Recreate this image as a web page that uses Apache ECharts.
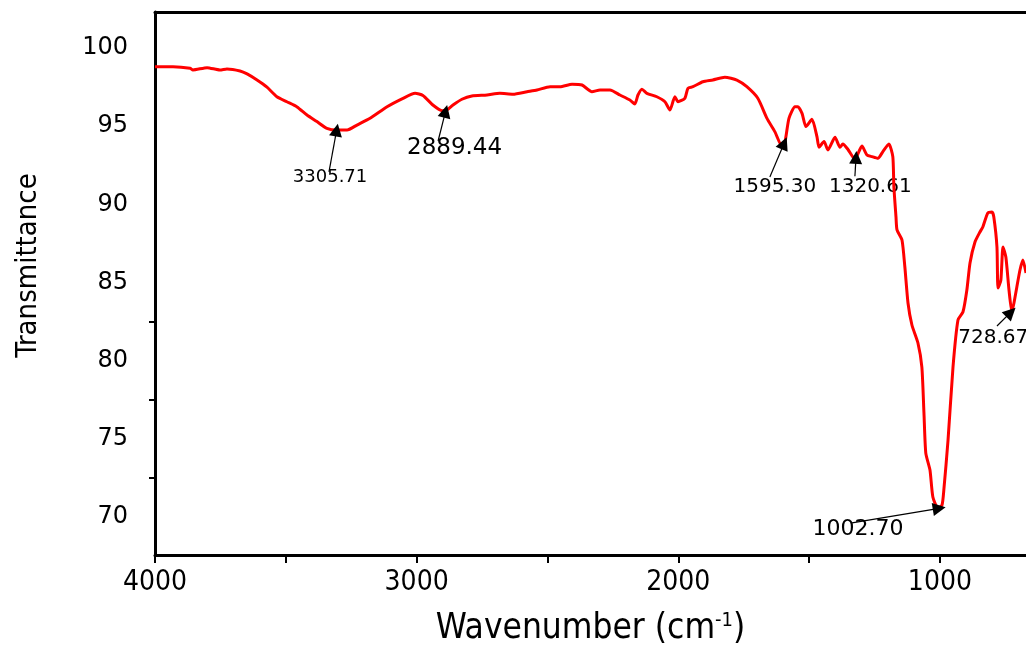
<!DOCTYPE html>
<html>
<head>
<meta charset="utf-8">
<script src="https://cdn.jsdelivr.net/npm/echarts@6/dist/echarts.min.js"></script>
<style>
html, body { margin: 0; padding: 0; background: #fff; }
#chart { width: 1026px; height: 647px; }
</style>
</head>
<body>
<div id="chart"></div>
<script>
// FTIR spectrum (cm-1, %T)
const wavenumber = [
    4000, 3931, 3866, 3855, 3801, 3752, 3725, 3675, 3648, 3610,
    3572, 3534, 3496, 3457, 3419, 3381, 3343, 3304, 3266, 3228,
    3178, 3113, 3052, 3006, 2976, 2938, 2903, 2884, 2861, 2827,
    2789, 2731, 2682, 2632, 2578, 2540, 2490, 2452, 2406, 2368,
    2330, 2299, 2261, 2223, 2185, 2166, 2154, 2139, 2120, 2082,
    2051, 2032, 2013, 2001, 1975, 1963, 1944, 1906, 1868, 1822,
    1776, 1738, 1696, 1661, 1631, 1604, 1592, 1577, 1554, 1543,
    1527, 1512, 1489, 1470, 1462, 1443, 1428, 1401, 1382, 1371,
    1352, 1325, 1298, 1279, 1260, 1237, 1218, 1195, 1180, 1176,
    1168, 1164, 1145, 1134, 1122, 1107, 1084, 1069, 1061, 1054,
    1038, 1027, 1008, 992, 985, 969, 950, 931, 912, 897,
    885, 866, 847, 836, 817, 801, 794, 782, 778, 767,
    759, 748, 736, 725, 717, 706, 694, 683, 671
];
const transmittance = [
    98.80, 98.80, 98.70, 98.59, 98.74, 98.59, 98.66, 98.53, 98.34, 97.95,
    97.49, 96.88, 96.56, 96.23, 95.71, 95.29, 94.86, 94.75, 94.75, 95.07,
    95.50, 96.24, 96.78, 97.10, 96.96, 96.35, 95.99, 96.03, 96.35, 96.72,
    96.93, 96.99, 97.10, 97.04, 97.20, 97.31, 97.52, 97.52, 97.68, 97.63,
    97.20, 97.31, 97.31, 96.99, 96.67, 96.42, 96.99, 97.36, 97.10, 96.88,
    96.56, 96.03, 96.88, 96.56, 96.78, 97.42, 97.52, 97.84, 97.95, 98.13,
    97.95, 97.52, 96.78, 95.50, 94.65, 93.73, 94.01, 95.50, 96.24, 96.24,
    95.82, 94.97, 95.44, 94.33, 93.65, 94.01, 93.48, 94.29, 93.65, 93.86,
    93.52, 92.88, 93.73, 93.16, 93.05, 92.94, 93.37, 93.86, 93.05, 91.13,
    89.21, 88.36, 87.72, 85.99, 83.69, 82.28, 81.13, 79.59, 76.65, 74.09,
    73.00, 71.28, 70.57, 70.77, 71.73, 74.92, 79.59, 82.60, 83.11, 84.52,
    86.25, 87.59, 88.23, 88.55, 89.45, 89.51, 89.19, 87.27, 84.65, 85.16,
    87.27, 86.63, 84.52, 83.11, 83.69, 84.71, 85.80, 86.44, 85.61
];

// marked peaks
const peakLabels = ['3305.71', '2889.44', '1595.30', '1320.61', '1002.70', '728.67'];
const peakWavenumber = [3305.71, 2889.44, 1595.30, 1320.61, 1002.70, 728.67];
const peakTransmittance = [94.75, 95.95, 93.9, 93.0, 70.55, 83.1];

const xTickLabels = [4000, 3000, 2000, 1000];
const xTicks = [1000, 1500, 2000, 2500, 3000, 3500, 4000];
const yTickLabels = [70, 75, 80, 85, 90, 95, 100];
const yTicks = [72.5, 77.5, 82.5];

// annotation layout (arrow tails and text anchors, in data units)
const arrowTail = [[3335, 92.07], [2918, 94.05], [1650, 91.75], [1325, 91.8], [1336, 69.62], [782, 82.22]];
const labelAnchor = [[3331, 91.75], [2855, 93.6], [1631, 91.1], [1266, 91.1], [1313, 69.23], [796, 81.45]];
const labelSize = [18, 23, 20, 20, 22, 20];

const narrow = "'Liberation Sans Narrow', 'DejaVu Sans Condensed', 'Liberation Sans', sans-serif";
const plain = "'DejaVu Sans', 'Liberation Sans', sans-serif";

const chart = echarts.init(document.getElementById('chart'), null, { renderer: 'canvas' });

chart.setOption({
    backgroundColor: '#fff',
    animation: false,
    grid: { left: 155, right: 0, top: 12, bottom: 92, outerBoundsMode: 'none' },
    xAxis: [
        {
            type: 'value',
            inverse: true,
            min: 671,
            max: 4000,
            position: 'bottom',
            name: '{t|Wavenumber (cm}{s|-1}{t|)}',
            nameLocation: 'middle',
            nameGap: 56,
            nameTextStyle: {
                rich: {
                    t: { fontFamily: narrow, fontSize: 35, color: '#000' },
                    s: { fontFamily: narrow, fontSize: 20, color: '#000', verticalAlign: 'top', padding: [0, 0, 14, 0] },
                },
            },
            axisLine: { show: true, lineStyle: { color: '#000', width: 3 } },
            axisTick: { show: true, customValues: xTicks, length: 8, lineStyle: { color: '#000', width: 2 } },
            axisLabel: {
                customValues: xTickLabels,
                margin: 14,
                color: '#000',
                fontFamily: narrow,
                fontSize: 28,
                formatter: (v) => String(v),
            },
            splitLine: { show: false },
        },
        {
            type: 'value',
            inverse: true,
            min: 671,
            max: 4000,
            position: 'top',
            axisLine: { show: true, lineStyle: { color: '#000', width: 3 } },
            axisTick: { show: false },
            axisLabel: { show: false },
            splitLine: { show: false },
        },
    ],
    yAxis: {
        type: 'value',
        min: 67.57,
        max: 102.3,
        name: 'Transmittance',
        nameLocation: 'middle',
        nameGap: 112,
        nameTextStyle: { fontFamily: narrow, fontSize: 29, color: '#000', padding: [0, 0, 0, 36] },
        axisLine: { show: true, lineStyle: { color: '#000', width: 3 } },
        axisTick: { show: true, customValues: yTicks, length: 6, lineStyle: { color: '#000', width: 2 } },
        axisLabel: { customValues: yTickLabels, margin: 27, color: '#000', fontFamily: plain, fontSize: 24 },
        splitLine: { show: false },
    },
    series: [
        {
            name: 'FTIR',
            type: 'line',
            data: wavenumber.map((w, i) => [w, transmittance[i]]),
            showSymbol: false,
            smooth: 0.2,
            lineStyle: { color: '#ff0000', width: 3 },
            emphasis: { disabled: true },
            markLine: {
                silent: true,
                animation: false,
                symbol: ['none', 'triangle'],
                symbolSize: 13,
                label: { show: false },
                itemStyle: { color: '#000' },
                lineStyle: { color: '#000', width: 1.2, type: 'solid' },
                data: peakWavenumber.map((w, i) => [
                    { coord: arrowTail[i] },
                    { coord: [w, peakTransmittance[i]] },
                ]),
            },
        },
        {
            name: 'peaks',
            type: 'scatter',
            symbolSize: 0,
            silent: true,
            itemStyle: { opacity: 1 },
            emphasis: { disabled: true },
            data: peakLabels.map((txt, i) => ({
                value: labelAnchor[i],
                label: { fontSize: labelSize[i] },
            })),
            label: {
                show: true,
                position: [0, 0],
                align: 'center',
                verticalAlign: 'middle',
                color: '#000',
                fontFamily: plain,
                formatter: (p) => peakLabels[p.dataIndex],
            },
        },
    ],
});
</script>
</body>
</html>
